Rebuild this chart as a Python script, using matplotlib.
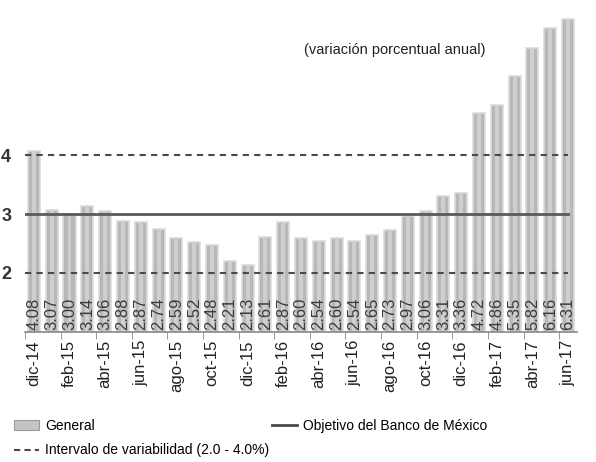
import matplotlib.pyplot as plt
import matplotlib as mpl
import numpy as np
from matplotlib.lines import Line2D
from matplotlib.patches import Patch

mpl.rcParams["font.family"] = ["Liberation Sans Narrow", "Liberation Sans", "DejaVu Sans"]

meses = ["dic-14", "ene-15", "feb-15", "mar-15", "abr-15", "may-15", "jun-15",
         "jul-15", "ago-15", "sep-15", "oct-15", "nov-15", "dic-15", "ene-16",
         "feb-16", "mar-16", "abr-16", "may-16", "jun-16", "jul-16", "ago-16",
         "sep-16", "oct-16", "nov-16", "dic-16", "ene-17", "feb-17", "mar-17",
         "abr-17", "may-17", "jun-17"]
general = [4.08, 3.07, 3.00, 3.14, 3.06, 2.88, 2.87, 2.74, 2.59, 2.52, 2.48,
           2.21, 2.13, 2.61, 2.87, 2.60, 2.54, 2.60, 2.54, 2.65, 2.73, 2.97,
           3.06, 3.31, 3.36, 4.72, 4.86, 5.35, 5.82, 6.16, 6.31]
objetivo = 3.0
intervalo = [2.0, 4.0]

fig = plt.figure(figsize=(5.96, 4.62), dpi=100)
ax = fig.add_axes([0.042, 0.282, 0.926, 0.70])

x = np.arange(len(meses))
ymin = 1.0
ax.bar(x, np.array(general) - ymin, 0.68, bottom=ymin, color="#b8b8b8",
       edgecolor="#dcdcdc", linewidth=1.2, zorder=2)
# brillo central de las barras
ax.bar(x, np.array(general) - ymin, 0.22, bottom=ymin, color="#cfcfcf",
       linewidth=0, zorder=2)

for xi, v in zip(x, general):
    ax.text(xi, ymin + 0.03, "%.2f" % v, rotation=90, ha="center", va="bottom",
            fontsize=12, color="#3c3c3c", zorder=4)

ax.plot([-0.5, x[-1]], [objetivo, objetivo], color="#5a5a5a", lw=2, zorder=3)
for lv in intervalo:
    ax.plot([-0.5, x[-1]], [lv, lv], color="#4a4a4a", lw=1.5,
            ls=(0, (3, 2.5)), zorder=3)

ax.set_xlim(-0.5, len(meses) - 0.5)
ax.set_ylim(ymin, 6.5)

ax.set_xticks(x[::2])
ax.set_xticklabels(meses[::2], rotation=90, fontsize=12, color="#222222")
ax.set_xticks(np.arange(-0.5, len(meses), 2), minor=True)
ax.tick_params(axis="x", which="major", length=0, pad=6)
ax.tick_params(axis="x", which="minor", length=5, color="#888888")

ax.set_yticks([2, 3, 4])
ax.set_yticklabels(["2", "3", "4"], fontsize=13, fontweight="bold", color="#333333")
ax.tick_params(axis="y", length=0, pad=10)

for s in ["top", "right", "left"]:
    ax.spines[s].set_visible(False)
ax.spines["bottom"].set_color("#888888")
ax.spines["bottom"].set_linewidth(1.2)

ax.text(0.505, 0.86, "(variación porcentual anual)", transform=ax.transAxes,
        fontsize=10.5, color="#222222")

handles = [Patch(facecolor="#c4c4c4", edgecolor="#9a9a9a", linewidth=0.8),
           Line2D([], [], color="#4a4a4a", lw=1.5, ls=(0, (3, 2))),
           Line2D([], [], color="#4a4a4a", lw=2)]
labels = ["General", "Intervalo de variabilidad (2.0 - 4.0%)",
          "Objetivo del Banco de México"]
fig.legend(handles, labels, ncol=2, loc="upper left", bbox_to_anchor=(0.015, 0.105),
           frameon=False, fontsize=10, handlelength=1.8, handletextpad=0.4,
           columnspacing=0.2, labelspacing=0.75, borderaxespad=0)

fig.savefig("out.png", dpi=100)
